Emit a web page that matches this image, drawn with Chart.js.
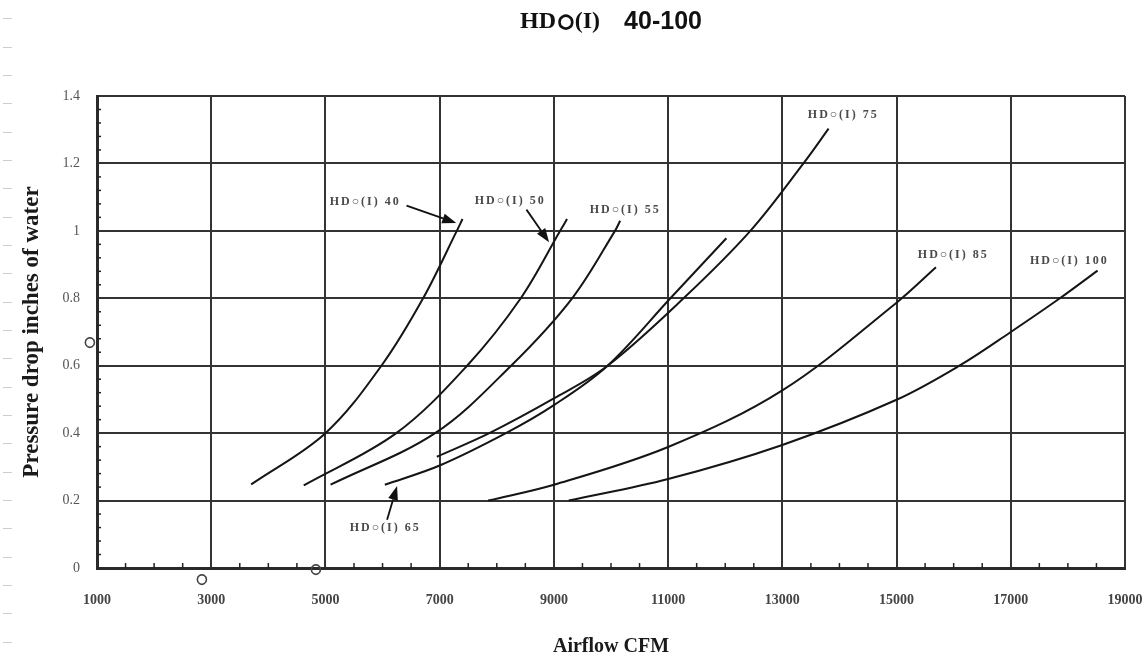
<!DOCTYPE html>
<html>
<head>
<meta charset="utf-8">
<title>HD○(I) 40-100</title>
<script src="https://cdn.jsdelivr.net/npm/chart.js@4.4.1/dist/chart.umd.min.js"></script>
<style>
  html, body { margin: 0; padding: 0; background: #fff; }
</style>
</head>
<body>
<canvas id="myChart" width="1146" height="660"></canvas>
<script>
// text
const titleParts = ['HD', '○', '(I)', '40-100'];
const xAxisTitle = 'Airflow CFM';
const yAxisTitle = 'Pressure drop inches of water';
const xTickLabels = ['1000', '3000', '5000', '7000', '9000', '11000', '13000', '15000', '17000', '19000'];
const yTickLabels = ['0', '0.2', '0.4', '0.6', '0.8', '1', '1.2', '1.4'];
const seriesNames = ['HD○(I) 40', 'HD○(I) 50', 'HD○(I) 55', 'HD○(I) 65', 'HD○(I) 75', 'HD○(I) 85', 'HD○(I) 100'];

// curves (airflow CFM / pressure drop in. w.g.)
const cfm40   = [3700, 5000, 5980, 6710, 7300, 7400];
const drop40  = [0.248, 0.40, 0.60, 0.80, 1.00, 1.035];

const cfm50   = [4620, 6240, 7480, 8420, 9110, 9230];
const drop50  = [0.245, 0.40, 0.60, 0.80, 1.00, 1.035];

const cfm55   = [5090, 6920, 8250, 9320, 10070, 10160];
const drop55  = [0.247, 0.40, 0.60, 0.80, 1.00, 1.03];

const cfm65   = [6040, 7000, 8160, 9000, 9940, 11040, 12020];
const drop65  = [0.247, 0.304, 0.40, 0.483, 0.60, 0.80, 0.978];

const cfm75   = [6950, 7870, 9000, 9940, 11270, 12440, 13370, 13810];
const drop75  = [0.33, 0.40, 0.503, 0.60, 0.80, 1.00, 1.20, 1.303];

const cfm85   = [7850, 9000, 11000, 13000, 15000, 15690];
const drop85  = [0.20, 0.247, 0.359, 0.527, 0.787, 0.892];

const cfm100  = [9260, 11000, 13000, 15000, 16100, 17000, 17860, 18520];
const drop100 = [0.20, 0.264, 0.365, 0.499, 0.60, 0.70, 0.80, 0.882];

// where the curve names sit (left/middle of text), in chart units
const labelSpots = [[5075, 1.085], [7614, 1.09], [9628, 1.061], [5425, 0.118], [13447, 1.345], [15373, 0.928], [17335, 0.91]];
// leader arrows: tail -> head, in chart units
const arrows = [
  [[6420, 1.075], [7290, 1.023]],
  [[8520, 1.063], [8916, 0.966]],
  [[6079, 0.143], [6254, 0.243]]
];
// stray circles left on the scan
const strayMarks = [[872, 0.668], [2834, -0.035], [4830, -0.006]];

const series = [
  [cfm40, drop40], [cfm50, drop50], [cfm55, drop55], [cfm65, drop65],
  [cfm75, drop75], [cfm85, drop85], [cfm100, drop100]
];

const datasets = series.map((s, i) => ({
  label: seriesNames[i],
  data: s[0].map((v, j) => ({ x: v, y: s[1][j] })),
  showLine: true,
  fill: false,
  borderColor: '#151515',
  borderWidth: 2,
  pointRadius: 0,
  pointHoverRadius: 0,
  tension: 0.35
}));

function arrow(ctx, x1, y1, x2, y2) {
  const a = Math.atan2(y2 - y1, x2 - x1);
  const len = 14, half = 5;
  const bx = x2 - len * Math.cos(a), by = y2 - len * Math.sin(a);
  ctx.beginPath();
  ctx.moveTo(x1, y1);
  ctx.lineTo(bx, by);
  ctx.stroke();
  ctx.beginPath();
  ctx.moveTo(x2, y2);
  ctx.lineTo(bx + half * Math.sin(a), by - half * Math.cos(a));
  ctx.lineTo(bx - half * Math.sin(a), by + half * Math.cos(a));
  ctx.closePath();
  ctx.fill();
}

const extras = {
  id: 'extras',
  beforeDraw(chart) {
    const ctx = chart.ctx;
    ctx.save();
    ctx.fillStyle = '#fff';
    ctx.fillRect(0, 0, chart.width, chart.height);
    // faint page marks down the left edge
    ctx.strokeStyle = '#cdcdcd';
    ctx.lineWidth = 1;
    for (let y = 18.3; y < chart.height; y += 28.33) {
      ctx.beginPath();
      ctx.moveTo(3, Math.round(y) + 0.5);
      ctx.lineTo(12, Math.round(y) + 0.5);
      ctx.stroke();
    }
    ctx.restore();
  },
  afterDraw(chart) {
    const ctx = chart.ctx;
    const xs = chart.scales.x, ys = chart.scales.y;
    const area = chart.chartArea;
    ctx.save();

    // minor ticks
    ctx.strokeStyle = '#222';
    ctx.lineWidth = 1.5;
    for (let v = 1500; v < 19000; v += 500) {
      if ((v - 1000) % 2000 === 0) continue;
      const px = xs.getPixelForValue(v);
      ctx.beginPath();
      ctx.moveTo(px, area.bottom);
      ctx.lineTo(px, area.bottom - 5);
      ctx.stroke();
    }
    for (let k = 1; k < 35; k++) {
      if (k % 5 === 0) continue;
      const py = ys.getPixelForValue(k * 0.04);
      ctx.beginPath();
      ctx.moveTo(area.left, py);
      ctx.lineTo(area.left + 4, py);
      ctx.stroke();
    }

    // curve names
    ctx.fillStyle = '#4a4a4a';
    ctx.font = 'bold 12px "Liberation Serif"';
    ctx.textAlign = 'left';
    ctx.textBaseline = 'middle';
    ctx.letterSpacing = '2px';
    seriesNames.forEach((name, i) => {
      ctx.fillText(name, xs.getPixelForValue(labelSpots[i][0]), ys.getPixelForValue(labelSpots[i][1]));
    });
    ctx.letterSpacing = '0px';

    // arrows
    ctx.strokeStyle = '#111';
    ctx.fillStyle = '#111';
    ctx.lineWidth = 1.8;
    arrows.forEach(a => {
      arrow(ctx, xs.getPixelForValue(a[0][0]), ys.getPixelForValue(a[0][1]),
        xs.getPixelForValue(a[1][0]), ys.getPixelForValue(a[1][1]));
    });

    // stray circles
    ctx.fillStyle = '#444';
    ctx.strokeStyle = '#444';
    ctx.lineWidth = 0.8;
    ctx.font = '13px "DejaVu Sans"';
    ctx.textAlign = 'center';
    strayMarks.forEach(m => {
      const px = xs.getPixelForValue(m[0]), py = ys.getPixelForValue(m[1]);
      ctx.fillText('○', px, py);
      ctx.strokeText('○', px, py);
    });

    // title, serif name + sans range
    const fonts = ['bold 24px "Liberation Serif"', 'bold 18px "DejaVu Sans"', 'bold 24px "Liberation Serif"', 'bold 25px "Liberation Sans"'];
    const gaps = [2, 1, 24, 0];
    const widths = titleParts.map((t, i) => { ctx.font = fonts[i]; return ctx.measureText(t).width; });
    let total = 0;
    widths.forEach((w, i) => total += w + gaps[i]);
    let tx = (area.left + area.right) / 2 - total / 2;
    ctx.fillStyle = '#111';
    ctx.strokeStyle = '#111';
    ctx.textAlign = 'left';
    ctx.textBaseline = 'middle';
    titleParts.forEach((t, i) => {
      ctx.font = fonts[i];
      ctx.fillText(t, tx, 22);
      if (t === '○') {
        ctx.lineWidth = 1.6;
        ctx.strokeText(t, tx, 22);
      }
      tx += widths[i] + gaps[i];
    });
    ctx.restore();
  }
};

const ctx = document.getElementById('myChart').getContext('2d');
const myChart = new Chart(ctx, {
  type: 'scatter',
  data: { datasets: datasets },
  options: {
    responsive: false,
    animation: false,
    devicePixelRatio: 1,
    layout: { padding: { top: 96, right: 21, left: 0, bottom: 0 } },
    plugins: {
      legend: { display: false },
      tooltip: { enabled: false }
    },
    scales: {
      x: {
        type: 'linear',
        min: 1000,
        max: 19000,
        afterFit: s => { s.height = 92; s.paddingLeft = 0; s.paddingRight = 0; },
        ticks: {
          stepSize: 2000,
          padding: 24,
          color: '#444',
          font: { family: 'Liberation Serif', size: 14, weight: 'bold' },
          callback: (v, i) => xTickLabels[i]
        },
        grid: { color: '#333', lineWidth: 2, drawTicks: false },
        border: { display: true, color: '#2a2a2a', width: 3 },
        title: {
          display: true,
          text: xAxisTitle,
          color: '#1a1a1a',
          font: { family: 'Liberation Serif', size: 20, weight: 'bold' },
          padding: { top: 0, bottom: 1 }
        }
      },
      y: {
        type: 'linear',
        min: 0,
        max: 1.4,
        afterFit: s => { s.width = 97; s.paddingTop = 0; s.paddingBottom = 0; },
        ticks: {
          stepSize: 0.2,
          padding: 17,
          color: '#555',
          font: { family: 'Liberation Serif', size: 14 },
          callback: (v, i) => yTickLabels[i]
        },
        grid: { color: '#333', lineWidth: 2, drawTicks: false },
        border: { display: true, color: '#2a2a2a', width: 3 },
        title: {
          display: true,
          text: yAxisTitle,
          color: '#1a1a1a',
          font: { family: 'Liberation Serif', size: 23, weight: 'bold' },
          padding: { top: 18, bottom: 0 }
        }
      }
    }
  },
  plugins: [extras]
});
</script>
</body>
</html>
